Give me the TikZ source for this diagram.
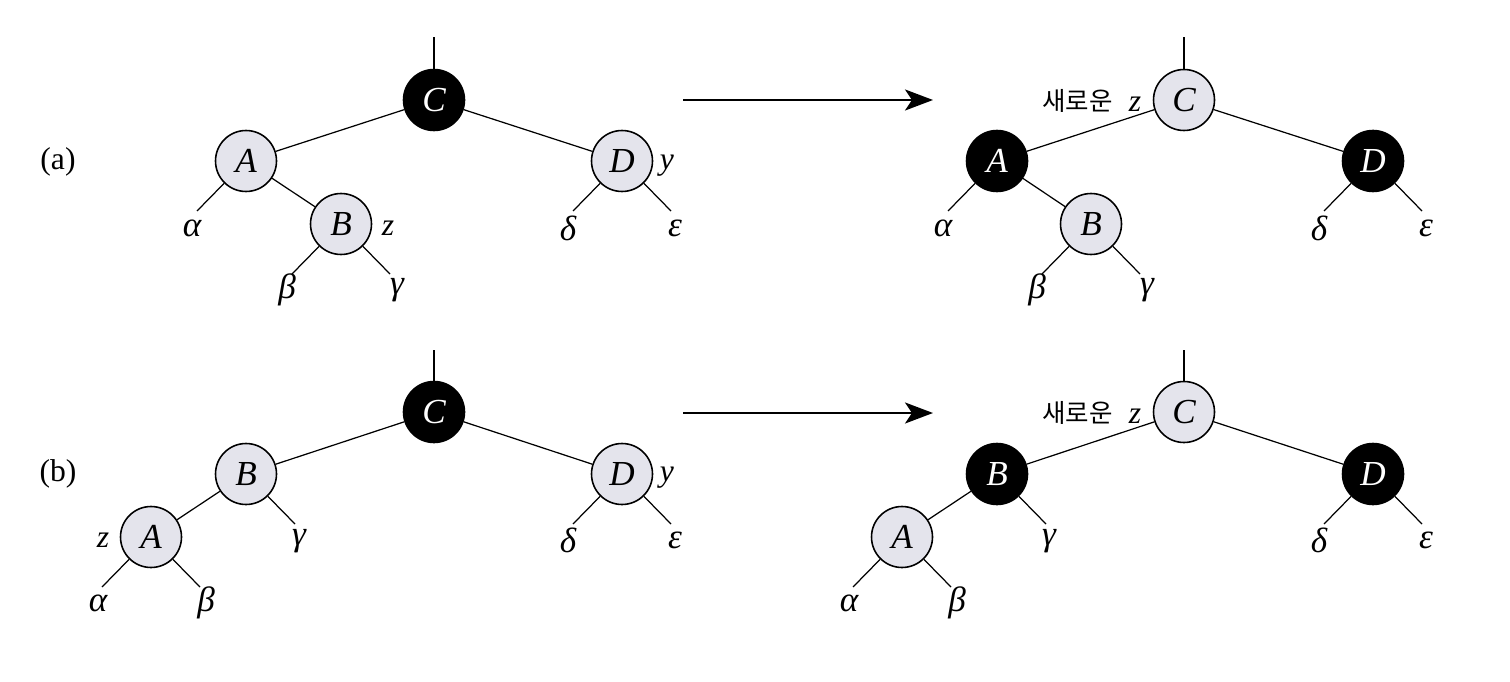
\documentclass[tikz,border=0pt]{standalone}
\usepackage{fontspec}
\setmainfont{Liberation Serif}
\newfontfamily\kr{Noto Sans CJK KR}
\usetikzlibrary{arrows.meta}
\definecolor{lightnode}{HTML}{E4E4EC}
\tikzset{
  rb/.style={circle, draw=black, line width=0.9pt, minimum size=1.22cm, inner sep=0pt,
    font=\fontsize{20}{24}\selectfont\itshape},
  lightrb/.style={rb, fill=lightnode, text=black},
  darkrb/.style={rb, fill=black, text=white},
  leaf/.style={inner sep=0pt, font=\fontsize{20}{24}\selectfont\itshape},
  side/.style={inner sep=0pt, font=\fontsize{18}{20}\selectfont\itshape},
  edge/.style={line width=0.7pt},
  bigarrow/.style={line width=1.5pt, -{Stealth[length=0.56cm, width=0.42cm, inset=0.14cm]}},
  partlabel/.style={inner sep=0pt, font=\fontsize{18}{20}\selectfont},
  newz/.style={inner sep=0pt, font=\fontsize{14.5}{17}\selectfont\kr}
}
\begin{document}
\begin{tikzpicture}[x=0.02cm, y=-0.02cm]
\useasboundingbox (0,0) rectangle (1510,682);

% ---------- (a) ----------
\node[partlabel] (la) at (58,162) {(a)};

% left tree (a)
\node[darkrb]  (aC) at (434,100) {C};
\node[lightrb] (aA) at (246,161) {A};
\node[lightrb] (aB) at (341,224) {B};
\node[lightrb] (aD) at (622,161) {D};
\coordinate (aCtop) at (434,37);
\draw[edge] (aC) -- (aCtop);
\draw[edge] (aC) -- (aA);
\draw[edge] (aC) -- (aD);
\draw[edge] (aA) -- (aB);
\coordinate (aAl) at (197,211);
\coordinate (aBl) at (292,274);
\coordinate (aBr) at (390,274);
\coordinate (aDl) at (573,211);
\coordinate (aDr) at (671,211);
\draw[edge] (aA) -- (aAl);
\draw[edge] (aB) -- (aBl);
\draw[edge] (aB) -- (aBr);
\draw[edge] (aD) -- (aDl);
\draw[edge] (aD) -- (aDr);
\node[leaf] (aalpha) at (192,228) {α};
\node[leaf] (abeta)  at (287,290) {β};
\node[leaf] (agamma) at (397,290) {γ};
\node[leaf] (adelta) at (568,228) {δ};
\node[leaf] (aeps)   at (675,228) {ε};
\node[side] (az) at (388,228) {z};
\node[side] (ay) at (667,166) {y};

% arrow (a)
\coordinate (aas) at (683,100);
\coordinate (aae) at (933,100);
\draw[bigarrow] (aas) -- (aae);

% right tree (a)
\node[lightrb] (bC) at (1184,100) {C};
\node[darkrb]  (bA) at (997,161) {A};
\node[lightrb] (bB) at (1091,224) {B};
\node[darkrb]  (bD) at (1373,161) {D};
\coordinate (bCtop) at (1184,37);
\draw[edge] (bC) -- (bCtop);
\draw[edge] (bC) -- (bA);
\draw[edge] (bC) -- (bD);
\draw[edge] (bA) -- (bB);
\coordinate (bAl) at (948,211);
\coordinate (bBl) at (1042,274);
\coordinate (bBr) at (1140,274);
\coordinate (bDl) at (1324,211);
\coordinate (bDr) at (1422,211);
\draw[edge] (bA) -- (bAl);
\draw[edge] (bB) -- (bBl);
\draw[edge] (bB) -- (bBr);
\draw[edge] (bD) -- (bDl);
\draw[edge] (bD) -- (bDr);
\node[leaf] (balpha) at (943,228) {α};
\node[leaf] (bbeta)  at (1037,290) {β};
\node[leaf] (bgamma) at (1147,290) {γ};
\node[leaf] (bdelta) at (1319,228) {δ};
\node[leaf] (beps)   at (1426,228) {ε};
\node[newz, anchor=east] (bnew) at (1113,101) {새로운};
\node[side] (bz) at (1135,104) {z};

% ---------- (b) ----------
\node[partlabel] (lb) at (58,474) {(b)};

% left tree (b)
\node[darkrb]  (cC) at (434,412) {C};
\node[lightrb] (cB) at (246,474) {B};
\node[lightrb] (cA) at (151,537) {A};
\node[lightrb] (cD) at (622,474) {D};
\coordinate (cCtop) at (434,350);
\draw[edge] (cC) -- (cCtop);
\draw[edge] (cC) -- (cB);
\draw[edge] (cC) -- (cD);
\draw[edge] (cB) -- (cA);
\coordinate (cBr) at (295,524);
\coordinate (cAl) at (102,587);
\coordinate (cAr) at (200,587);
\coordinate (cDl) at (573,524);
\coordinate (cDr) at (671,524);
\draw[edge] (cB) -- (cBr);
\draw[edge] (cA) -- (cAl);
\draw[edge] (cA) -- (cAr);
\draw[edge] (cD) -- (cDl);
\draw[edge] (cD) -- (cDr);
\node[leaf] (cgamma) at (299,541) {γ};
\node[leaf] (calpha) at (98,603) {α};
\node[leaf] (cbeta)  at (206,603) {β};
\node[leaf] (cdelta) at (568,540) {δ};
\node[leaf] (ceps)   at (675,540) {ε};
\node[side] (cz) at (103,540) {z};
\node[side] (cy) at (667,478) {y};

% arrow (b)
\coordinate (bas) at (683,413);
\coordinate (bae) at (933,413);
\draw[bigarrow] (bas) -- (bae);

% right tree (b)
\node[lightrb] (dC) at (1184,412) {C};
\node[darkrb]  (dB) at (997,474) {B};
\node[lightrb] (dA) at (902,537) {A};
\node[darkrb]  (dD) at (1373,474) {D};
\coordinate (dCtop) at (1184,350);
\draw[edge] (dC) -- (dCtop);
\draw[edge] (dC) -- (dB);
\draw[edge] (dC) -- (dD);
\draw[edge] (dB) -- (dA);
\coordinate (dBr) at (1046,524);
\coordinate (dAl) at (853,587);
\coordinate (dAr) at (951,587);
\coordinate (dDl) at (1324,524);
\coordinate (dDr) at (1422,524);
\draw[edge] (dB) -- (dBr);
\draw[edge] (dA) -- (dAl);
\draw[edge] (dA) -- (dAr);
\draw[edge] (dD) -- (dDl);
\draw[edge] (dD) -- (dDr);
\node[leaf] (dgamma) at (1049,541) {γ};
\node[leaf] (dalpha) at (849,603) {α};
\node[leaf] (dbeta)  at (957,603) {β};
\node[leaf] (ddelta) at (1319,540) {δ};
\node[leaf] (deps)   at (1426,540) {ε};
\node[newz, anchor=east] (dnew) at (1113,413) {새로운};
\node[side] (dz) at (1135,416) {z};
\end{tikzpicture}
\end{document}
